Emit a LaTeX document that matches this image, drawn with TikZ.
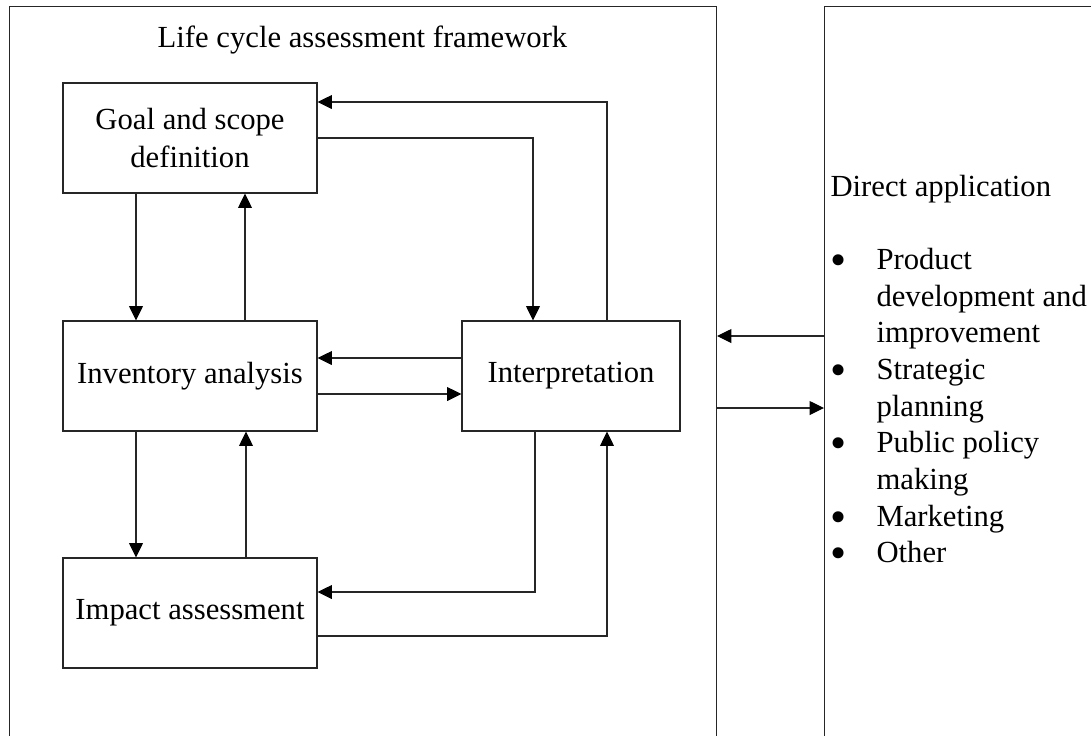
\documentclass[tikz,border=0pt]{standalone}
\usepackage{fontspec}
\setmainfont{Liberation Serif}
\usetikzlibrary{arrows.meta,calc}
\newcommand{\appbullet}{\smash{\raisebox{-2.3pt}{\scalebox{1.5}{\textbullet}}}}
\tikzset{
    stagebox/.style={draw=black!85,minimum width=95.25pt,minimum height=41.25pt,align=center,inner sep=2pt,font=\fontsize{11.5pt}{14pt}\selectfont},
    panelbox/.style={draw=black!85,anchor=north west,minimum height=330pt,inner sep=0pt},
    plain/.style={inner sep=0pt,font=\fontsize{11.5pt}{13.75pt}\selectfont},
    lnk/.style={draw=black!85,-{Triangle[length=5.4pt,width=5.2pt,color=black]}}
}

\begin{document}
\begin{tikzpicture}[x=0.375pt,y=-0.375pt]
        \useasboundingbox (0,0) rectangle (1091,735);
        \clip (0,0) rectangle (1091,735);
        %---
        \node[panelbox,minimum width=265.1pt] (lca) at (9,6) {};
        \node[panelbox,minimum width=103.5pt] (app) at (824,6) {};
        \node[plain,anchor=base] (lca-title) at (362.5,47) {Life cycle assessment framework};
        \node[plain,anchor=base west] (app-list) at (830,196) {%
            \begin{tabular}[t]{@{}p{17.25pt}@{}l@{}}
                \multicolumn{2}{@{}l@{}}{Direct application}\\
                & \\
                \appbullet & Product\\
                & development and\\
                & improvement\\
                \appbullet & Strategic\\
                & planning\\
                \appbullet & Public policy\\
                & making\\
                \appbullet & Marketing\\
                \appbullet & Other
            \end{tabular}};

        %---
        \node[stagebox] (goal) at (190,138) {Goal and scope\\definition};
        \node[stagebox] (inv) at (190,376) {Inventory analysis};
        \node[stagebox] (imp) at (190,613) {Impact assessment};
        \node[stagebox,minimum width=81.75pt] (interp) at (571,376) {Interpretation};

        \begin{scope}[every path/.style={lnk}]
            \draw ($(goal.south)+(-54,0)$) -- ($(inv.north)+(-54,0)$);
            \draw ($(inv.north)+(55,0)$) -- ($(goal.south)+(55,0)$);
            \draw ($(inv.south)+(-54,0)$) -- ($(imp.north)+(-54,0)$);
            \draw ($(imp.north)+(56,0)$) -- ($(inv.south)+(56,0)$);
            \draw ($(interp.west)+(0,-18)$) -- ($(inv.east)+(0,-18)$);
            \draw ($(inv.east)+(0,18)$) -- ($(interp.west)+(0,18)$);
            \draw ($(interp.north)+(36,0)$) |- ($(goal.east)+(0,-36)$);
            \draw (goal.east) -| ($(interp.north)+(-38,0)$);
            \draw ($(interp.south)+(-36,0)$) |- ($(imp.east)+(0,-21)$);
            \draw ($(imp.east)+(0,23)$) -| ($(interp.south)+(36,0)$);
            % framework <-> applications
            \draw ($(app.north west)+(0,330)$) -- ($(lca.north east)+(0,330)$);
            \draw ($(lca.north east)+(0,402)$) -- ($(app.north west)+(0,402)$);
        \end{scope}
    \end{tikzpicture}
\end{document}
